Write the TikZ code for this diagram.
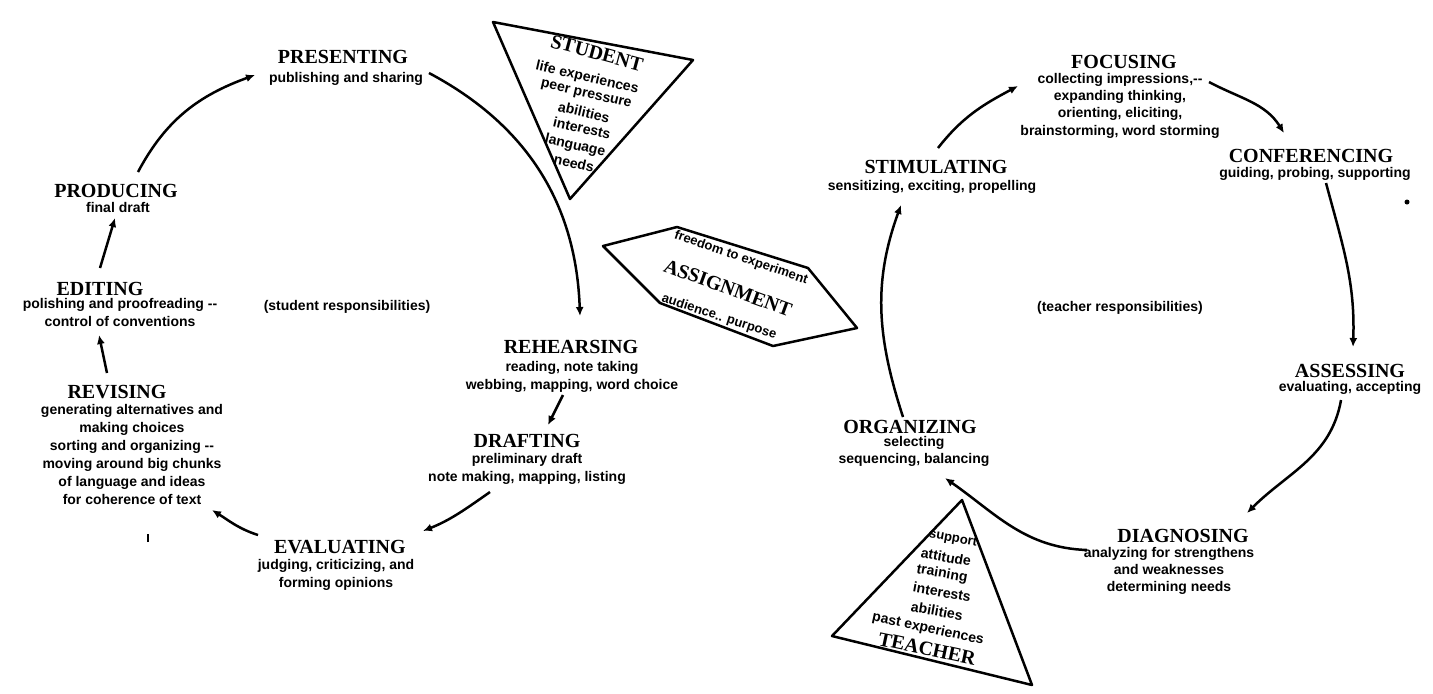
\documentclass[tikz,border=0pt]{standalone}
\usepackage{fontspec}
\setmainfont{Liberation Serif}
\newfontfamily\dscfont{Liberation Sans}
\usetikzlibrary{arrows.meta}
\begin{document}
\begin{tikzpicture}[x=0.5pt,y=-0.5pt,
  ttl/.style={font=\bfseries\fontsize{10}{12}\selectfont,inner sep=0pt,anchor=base},
  dsc/.style={font=\dscfont\bfseries\fontsize{7}{9}\selectfont,inner sep=0pt,anchor=north,align=center},
  rtx/.style={font=\dscfont\bfseries\fontsize{7}{9}\selectfont,inner sep=0pt,anchor=center},
  rts/.style={font=\dscfont\bfseries\fontsize{6.5}{8}\selectfont,inner sep=0pt,anchor=center},
  rtt/.style={font=\bfseries\fontsize{10}{12}\selectfont,inner sep=0pt,anchor=center},
  conn/.style={line width=1.25pt,-{Latex[length=4.5pt,width=4pt]}},
  frame/.style={line width=1.25pt,line join=round}]
\useasboundingbox (0,0) rectangle (1433,693);

% ---------- left cycle (student) ----------
\node[ttl] (pres) at (343,63) {PRESENTING};
\node[dsc] (presd) at (346,71.5) {publishing and sharing};
\node[ttl] (prod) at (116,197) {PRODUCING};
\node[dsc] (prodd) at (118,201.5) {final draft};
\node[ttl] (edit) at (100,295) {EDITING};
\node[dsc] (editd) at (120,297.5) {polishing and proofreading --\\control of conventions};
\node[dsc] (studr) at (347,299.5) {(student responsibilities)};
\node[ttl] (revi) at (117,398) {REVISING};
\node[dsc] (revid) at (132,403.5) {generating alternatives and\\making choices\\sorting and organizing --\\moving around big chunks\\of language and ideas\\for coherence of text};
\node[inner sep=0pt] (mark) at (148,538) {\rule{1pt}{4pt}};
\node[ttl] (eval) at (340,553) {EVALUATING};
\node[dsc] (evald) at (336,558.5) {judging, criticizing, and\\forming opinions};
\node[ttl] (draf) at (527,447) {DRAFTING};
\node[dsc] (drafd) at (527,452.5) {preliminary draft\\note making, mapping, listing};
\node[ttl] (rehe) at (571,353) {REHEARSING};
\node[dsc] (rehed) at (572,360.5) {reading, note taking\\webbing, mapping, word choice};

\coordinate (a1s) at (138,172); \coordinate (a1e) at (255,75);
\coordinate (a2s) at (429,73);  \coordinate (a2e) at (580,316);
\coordinate (a3s) at (100,268); \coordinate (a3e) at (115,218);
\coordinate (a4s) at (107,373); \coordinate (a4e) at (99,335);
\coordinate (a5s) at (258,535); \coordinate (a5e) at (212,510);
\coordinate (a6s) at (490,492); \coordinate (a6e) at (423,531);
\coordinate (a7s) at (563,395); \coordinate (a7e) at (548,425);
\draw[conn] (a1s) to[out=62,in=200] (a1e);
\draw[conn] (a2s) to[out=-28,in=92] (a2e);
\draw[conn] (a3s) -- (a3e);
\draw[conn] (a4s) -- (a4e);
\draw[conn] (a5s) to[out=162,in=-32] (a5e);
\draw[conn] (a6s) to[out=215,in=22] (a6e);
\draw[conn] (a7s) -- (a7e);

% ---------- student triangle ----------
\draw[frame] (493,22) -- (693,60) -- (570,199) -- cycle;
\node[rtt,rotate=-15] (stu) at (597,53) {STUDENT};
\node[rtx,rotate=-13] (s1) at (587,78) {life experiences};
\node[rtx,rotate=-13] (s2) at (586,95) {peer pressure};
\node[rtx,rotate=-13] (s3) at (584,112) {abilities};
\node[rtx,rotate=-13] (s4) at (582,128) {interests};
\node[rtx,rotate=-13] (s5) at (575,146) {language};
\node[rtx,rotate=-13] (s6) at (574,163) {needs};

% ---------- assignment hexagon ----------
\draw[frame] (603,246) -- (677,227) -- (808,268) -- (857,328) -- (773,346) -- (660,303) -- cycle;
\node[rts,rotate=-19] (as1) at (741,258) {freedom to experiment};
\node[rtt,rotate=-20] (ass) at (728,288) {ASSIGNMENT};
\node[rts,rotate=-18] (as2) at (719,317) {audience.. purpose};

% ---------- right cycle (teacher) ----------
\node[ttl] (focu) at (1124,68) {FOCUSING};
\node[dsc,font=\dscfont\bfseries\fontsize{7}{8.7}\selectfont] (focud) at (1120,72.5) {collecting impressions,--\\expanding thinking,\\orienting, eliciting,\\brainstorming, word storming};
\node[ttl] (stim) at (936,173) {STIMULATING};
\node[dsc] (stimd) at (932,179.5) {sensitizing, exciting, propelling};
\node[ttl] (conf) at (1311,162) {CONFERENCING};
\node[dsc] (confd) at (1315,166.5) {guiding, probing, supporting};
\node[circle,fill,inner sep=0pt,minimum size=2.5pt] (dot) at (1407,202) {};
\node[dsc] (teachr) at (1120,300.5) {(teacher responsibilities)};
\node[ttl] (asse) at (1350,377) {ASSESSING};
\node[dsc] (assed) at (1350,380.5) {evaluating, accepting};
\node[ttl] (orga) at (910,433) {ORGANIZING};
\node[dsc,font=\dscfont\bfseries\fontsize{7}{8.3}\selectfont] (orgad) at (914,436) {selecting\\sequencing, balancing};
\node[ttl] (diag) at (1183,542) {DIAGNOSING};
\node[dsc,font=\dscfont\bfseries\fontsize{7}{8.7}\selectfont] (diagd) at (1169,546.5) {analyzing for strengthens\\and weaknesses\\determining needs};

\coordinate (b1s) at (938,148);  \coordinate (b1e) at (1018,86);
\coordinate (b2s) at (1209,82);  \coordinate (b2e) at (1284,133);
\coordinate (b3s) at (1326,183); \coordinate (b3e) at (1353,347);
\coordinate (b4s) at (1341,400); \coordinate (b4e) at (1247,513);
\coordinate (b5s) at (1087,550); \coordinate (b5e) at (945,478);
\coordinate (b6s) at (903,417);  \coordinate (b6e) at (901,205);
\draw[conn] (b1s) to[out=52,in=208] (b1e);
\draw[conn] (b2s) to[out=-28,in=122] (b2e);
\draw[conn] (b3s) to[out=-75,in=88] (b3e);
\draw[conn] (b4s) to[out=-100,in=45] (b4e);
\draw[conn] (b5s) to[out=178,in=-35] (b5e);
\draw[conn] (b6s) to[out=108,in=-110] (b6e);

% ---------- teacher triangle ----------
\draw[frame] (962,500) -- (832,636) -- (1032,685) -- cycle;
\node[rts,rotate=-10] (t1) at (953,539) {support};
\node[rtx,rotate=-10] (t2) at (946,557) {attitude};
\node[rtx,rotate=-10] (t3) at (942,574) {training};
\node[rtx,rotate=-10] (t4) at (942,592) {interests};
\node[rtx,rotate=-10] (t5) at (937,611) {abilities};
\node[rtx,rotate=-12] (t6) at (928,629) {past experiences};
\node[rtt,rotate=-12] (tea) at (927,649) {TEACHER};
\end{tikzpicture}
\end{document}
